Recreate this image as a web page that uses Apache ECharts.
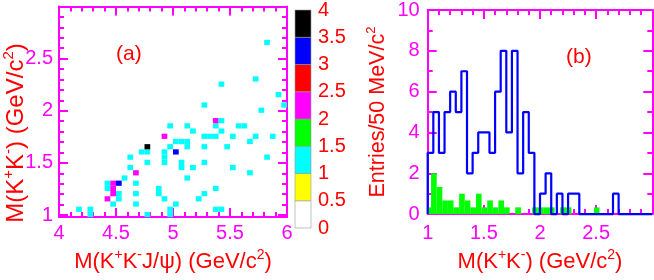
<!DOCTYPE html>
<html><head><meta charset="utf-8">
<script src="https://cdn.jsdelivr.net/npm/echarts@6/dist/echarts.min.js"></script>
<style>html,body{margin:0;padding:0;background:#fff}#c{width:654px;height:280px}</style>
</head><body><div id="c"></div>
<script>
// ---- panel (a): 2D histogram cells (lower bin edges, GeV) and entries ----
const cellX = [4.25,4.75,4.95, 4.15,4.25,4.95,5.35,5.40, 4.45,4.65,5.00, 4.40,4.50,4.90,5.20,
  4.45,4.50,4.65,4.85,5.25, 4.40,4.45,4.85,5.35, 4.40,4.45,4.50,4.65, 4.55,5.10, 4.65,5.65,
  4.60,5.05,5.15,5.50, 4.75,4.90,5.05,5.25, 4.60,4.90,5.80, 4.70,4.75,4.90,5.00,
  4.75,4.95,5.10,5.25,5.45, 5.00,5.05,5.10,5.65, 4.90,5.25,5.30,5.35,5.50,5.70,5.85,
  5.15,5.40, 4.95,5.10,5.35,5.55,5.60, 5.35,5.40, 5.75, 5.25,5.95, 5.90, 5.40, 5.70, 5.80];
const cellY = [0.98,0.98,0.98, 1.03,1.03,1.03,1.03,1.03, 1.08,1.08,1.08, 1.13,1.13,1.13,1.13,
  1.18,1.18,1.18,1.18,1.18, 1.23,1.23,1.23,1.23, 1.28,1.28,1.28,1.28, 1.33,1.33, 1.38,1.38,
  1.43,1.43,1.43,1.43, 1.48,1.48,1.48,1.48, 1.53,1.53,1.53, 1.58,1.58,1.58,1.58,
  1.63,1.63,1.63,1.63,1.63, 1.68,1.68,1.68,1.68, 1.73,1.73,1.73,1.73,1.73,1.73,1.73,
  1.78,1.78, 1.83,1.83,1.83,1.83,1.83, 1.88,1.88, 1.98, 2.03,2.03, 2.13, 2.23, 2.28, 2.63];
const cellN = [1,1,1, 1,1,1,1,1, 1,1,1, 2,1,1,1,
  2,1,1,1,1, 1,2,1,1, 1,2,3,1, 1,1, 2,1,
  1,1,1,1, 1,1,1,1, 1,1,1, 1,1,1,3,
  4,1,1,1,1, 1,1,1,1, 2,1,1,1,1,1,1,
  1,1, 1,1,1,1,1, 2,1, 1, 1,1, 1, 1, 1, 1];
const cellW = 0.05;
// colour scale (z axis)
const zEdges = [0,0.5,1,1.5,2,2.5,3,3.5];
const zColors = ['#ffffff','#ffff00','#00ffff','#00ff00','#ff00ff','#ff0000','#0000ff','#000000'];
const zMax = 4;
// axis ticks of panel (a) y axis
const aYLabels = [1,1.5,2,2.5];
const aYMajor = [1,1.5,2,2.5,3];
const aYMinor = [1.1,1.2,1.3,1.4,1.6,1.7,1.8,1.9,2.1,2.2,2.3,2.4,2.6,2.7,2.8,2.9];
// ---- panel (b): 1D histograms ----
const blueStart = 1.0, binW = 0.05;
const blueCounts = [3,5,3,5,6,5,7,2,3,4,4,3,6,8,4,8,2,5,3,0,1,2,0,1,0,1,1,0,0,0,0,0,0,1,0,0,0,0,0,0];
const greenStart = 0.98;
const greenCounts = [0.33,2,1.33,0.67,0.67,0.33,1,0.67,0.33,1,0.33,0.67,0.33,0.67,0.33,0,0.33,0,0,
  0.33,0.33,0.33,0.33,0,0.33,0.33,0,0,0,0,0.33];

const FONT = "'Liberation Sans', Arial, Helvetica, sans-serif";
const MAG = '#ff00ff', RED = '#ff0000';
const chart = echarts.init(document.getElementById('c'), null, {renderer:'canvas'});

function supRich(fs){ return {sup:{fontSize:Math.round(fs*0.62), lineHeight:12, verticalAlign:'top', color:RED, fontFamily:FONT}}; }
function nameStyle(fs, extra){ return Object.assign({color:RED, fontSize:fs, lineHeight:fs+5, fontFamily:FONT, rich:supRich(fs)}, extra||{}); }
const axLine = {show:true, onZero:false, lineStyle:{color:MAG, width:2}};
function tick(len, extra){ return Object.assign({show:true, inside:true, length:len, lineStyle:{color:MAG, width:2}}, extra||{}); }
const minor5 = {show:true, splitNumber:5, length:5, lineStyle:{color:MAG, width:2}};
const lab = (extra) => Object.assign({color:MAG, fontSize:20, fontFamily:FONT}, extra||{});

const cells = cellX.map((x,i)=>[x, cellY[i], cellN[i]]);
function zColor(n){ let k = Math.floor(n/0.5); if (k>7) k=7; return zColors[k]; }

const blueLine = [[blueStart,0]].concat(blueCounts.map((c,i)=>[blueStart+binW*i, c]))
  .concat([[blueStart+binW*blueCounts.length, blueCounts[blueCounts.length-1]]]);
const green = greenCounts.map((c,i)=>[greenStart+binW*i, c]);

const option = {
  animation:false,
  backgroundColor:'#ffffff',
  title:[
    {text:'(a)', left:116, top:44, padding:0, textStyle:{color:RED, fontSize:21, fontWeight:'normal', fontFamily:FONT}},
    {text:'(b)', left:566, top:47, padding:0, textStyle:{color:RED, fontSize:21, fontWeight:'normal', fontFamily:FONT}}
  ],
  graphic:[
    {type:'text', x:16, y:133, rotation:Math.PI/2, z:10,
     style:Object.assign({text:'M(K{sup|+}K{sup|-}) (GeV/c{sup|2})', align:'center', verticalAlign:'middle',
       fill:RED, fontSize:24, fontFamily:FONT, lineHeight:29, rich:supRich(24)}, {})}
  ],
  grid:[
    {left:59, top:6.5, width:228, height:221.5},
    {left:295, top:7.5, width:16, height:220.5},
    {left:427.7, top:9.3, width:224.6, height:218.4}
  ],
  xAxis:[
    {gridIndex:0, type:'value', position:'bottom', min:4, max:6, interval:0.5,
     axisLine:axLine, axisTick:tick(9), minorTick:minor5, splitLine:{show:false},
     axisLabel:lab({margin:6}),
     name:'M(K{sup|+}K{sup|-}J/ψ) (GeV/c{sup|2})', nameLocation:'middle', nameGap:16,
     nameTextStyle:nameStyle(22, {verticalAlign:'top'})},
    {gridIndex:0, type:'value', position:'top', min:4, max:6, interval:0.5,
     axisLine:axLine, axisTick:tick(9), minorTick:minor5, splitLine:{show:false}, axisLabel:{show:false}},
    {gridIndex:1, type:'value', min:0, max:1, show:false},
    {gridIndex:2, type:'value', position:'bottom', min:1, max:3, interval:0.5,
     axisLine:axLine, axisTick:tick(9), minorTick:minor5, splitLine:{show:false},
     axisLabel:lab({margin:9, showMaxLabel:false}),
     name:'M(K{sup|+}K{sup|-}) (GeV/c{sup|2})', nameLocation:'middle', nameGap:20,
     nameTextStyle:nameStyle(22, {verticalAlign:'top'})},
    {gridIndex:2, type:'value', position:'top', min:1, max:3, interval:0.5,
     axisLine:axLine, axisTick:tick(9), minorTick:minor5, splitLine:{show:false}, axisLabel:{show:false}}
  ],
  yAxis:[
    {gridIndex:0, type:'value', position:'left', min:0.98, max:3.0,
     axisLine:axLine, axisTick:tick(9,{customValues:aYMajor}), splitLine:{show:false},
     axisLabel:lab({margin:6, customValues:aYLabels})},
    {gridIndex:0, type:'value', position:'left', min:0.98, max:3.0,
     axisLine:{show:false}, axisTick:tick(5,{customValues:aYMinor}), splitLine:{show:false}, axisLabel:{show:false}},
    {gridIndex:0, type:'value', position:'right', min:0.98, max:3.0,
     axisLine:axLine, axisTick:tick(9,{customValues:aYMajor}), splitLine:{show:false}, axisLabel:{show:false}},
    {gridIndex:0, type:'value', position:'right', min:0.98, max:3.0,
     axisLine:{show:false}, axisTick:tick(5,{customValues:aYMinor}), splitLine:{show:false}, axisLabel:{show:false}},
    {gridIndex:1, type:'value', position:'right', min:0, max:zMax, interval:0.5,
     axisLine:{show:false}, axisTick:{show:false}, splitLine:{show:false},
     axisLabel:{color:RED, fontSize:20, fontFamily:FONT, margin:7}},
    {gridIndex:2, type:'value', position:'left', min:0, max:10, interval:2,
     axisLine:axLine, axisTick:tick(9), minorTick:{show:true, splitNumber:2, length:5, lineStyle:{color:MAG, width:2}},
     splitLine:{show:false}, axisLabel:lab({margin:8}),
     name:'Entries/50 MeV/c{sup|2}', nameLocation:'middle', nameGap:36, nameTextStyle:nameStyle(21.5)},
    {gridIndex:2, type:'value', position:'right', min:0, max:10, interval:2,
     axisLine:axLine, axisTick:tick(9), minorTick:{show:true, splitNumber:2, length:5, lineStyle:{color:MAG, width:2}},
     splitLine:{show:false}, axisLabel:{show:false}}
  ],
  series:[
    {type:'custom', xAxisIndex:0, yAxisIndex:0, data:cells, z:2,
     renderItem:function(params, api){
       const x = api.value(0), y = api.value(1), n = api.value(2);
       const p0 = api.coord([x, y+cellW]), p1 = api.coord([x+cellW, y]);
       const rect = echarts.graphic.clipRectByRect({x:p0[0], y:p0[1], width:p1[0]-p0[0], height:p1[1]-p0[1]}, params.coordSys);
       return rect && {type:'rect', shape:rect, style:{fill:zColor(n)}};
     }},
    {type:'custom', xAxisIndex:2, yAxisIndex:4, data:zEdges.map((e,i)=>[e, i]), z:2,
     renderItem:function(params, api){
       const lo = api.value(0), i = api.value(1);
       const p0 = api.coord([0, lo+0.5]), p1 = api.coord([1, lo]);
       return {type:'rect', shape:{x:p0[0], y:p0[1], width:p1[0]-p0[0], height:p1[1]-p0[1]},
               style:{fill:zColors[i], stroke:'#999999', lineWidth:0.6}};
     }},
    {type:'custom', xAxisIndex:3, yAxisIndex:5, data:green, z:2,
     renderItem:function(params, api){
       const lo = api.value(0), c = api.value(1);
       if (!(c>0)) return null;
       const p0 = api.coord([lo, c]), p1 = api.coord([lo+binW, 0]);
       const rect = echarts.graphic.clipRectByRect({x:p0[0], y:p0[1], width:p1[0]-p0[0], height:p1[1]-p0[1]}, params.coordSys);
       return rect && {type:'rect', shape:rect, style:{fill:'#00ff00'}};
     }},
    {type:'line', xAxisIndex:3, yAxisIndex:5, data:blueLine, step:'end', showSymbol:false, clip:false, z:5,
     lineStyle:{color:'#0000ff', width:2.2}}
  ]
};
chart.setOption(option);
</script></body></html>
